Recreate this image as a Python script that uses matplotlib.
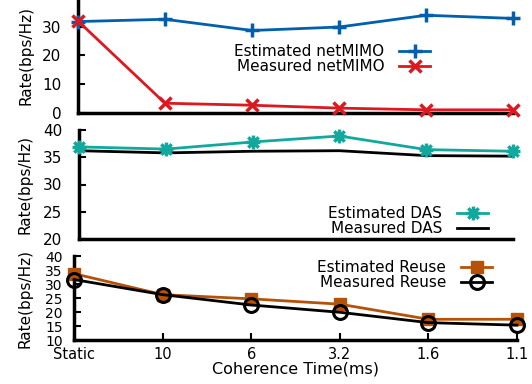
import numpy as np
import matplotlib
matplotlib.use("Agg")
import matplotlib.pyplot as plt
from matplotlib.path import Path

plt.rcParams['font.family'] = ['DejaVu Sans']

# coherence time categories
coherence = ['Static', '10', '6', '3.2', '1.6', '1.1']

# netMIMO
est_netmimo = [31.8, 32.6, 28.7, 29.9, 34.0, 32.9]
meas_netmimo = [32.0, 3.4, 2.7, 1.7, 1.1, 1.1]

# DAS
est_das = [36.9, 36.5, 37.8, 38.9, 36.4, 36.1]
meas_das = [36.2, 35.8, 36.1, 36.2, 35.3, 35.2]

# Reuse
est_reuse = [33.7, 26.2, 24.7, 22.8, 17.4, 17.4]
meas_reuse = [31.6, 26.2, 22.5, 19.9, 16.2, 15.3]

BLUE = '#0060ad'
RED = '#dd181f'
TEAL = '#12a89d'
BROWN = '#b5520a'

# gnuplot style star marker (+ and x together)
star = Path([(-1, 0), (1, 0), (0, -1), (0, 1),
             (-0.75, -0.75), (0.75, 0.75), (-0.75, 0.75), (0.75, -0.75)],
            [Path.MOVETO, Path.LINETO] * 4)

W, H = 532, 384
fig = plt.figure(figsize=(W / 100, H / 100), dpi=100)


def px_axes(left, right, top, bottom):
    return fig.add_axes([left / W, 1 - bottom / H, (right - left) / W, (bottom - top) / H])


def style(ax, ylim, yticks, labx):
    for s in ['top', 'right']:
        ax.spines[s].set_visible(False)
    for s in ['left', 'bottom']:
        ax.spines[s].set_linewidth(2.5)
    ax.set_xlim(0, len(coherence) - 1)
    ax.set_ylim(*ylim)
    ax.set_yticks(yticks)
    ax.tick_params(axis='y', direction='in', length=5, width=1.5, labelsize=11, pad=12)
    ax.set_ylabel('Rate(bps/Hz)', fontsize=11)
    ax.yaxis.set_label_coords(labx, 0.5)


x = np.arange(len(coherence))

# panel 1
ax1 = px_axes(78, 513, -2, 113)
ax1.plot(x, est_netmimo, color=BLUE, lw=2, marker='+', ms=10, mew=2.5,
         label='Estimated netMIMO', clip_on=False, zorder=3)
ax1.plot(x, meas_netmimo, color=RED, lw=2, marker='x', ms=9, mew=2.5,
         label='Measured netMIMO', clip_on=False, zorder=4)
style(ax1, (0, 40), [0, 10, 20, 30], -0.103)
ax1.set_xticks([])

# panel 2
ax2 = px_axes(79, 513, 130, 239)
ax2.plot(x, meas_das, color='black', lw=2, label='Measured DAS', clip_on=False, zorder=3)
ax2.plot(x, est_das, color=TEAL, lw=2, marker=star, ms=10, mew=2.5,
         label='Estimated DAS', clip_on=False, zorder=4)
style(ax2, (20, 40), [20, 25, 30, 35, 40], -0.106)
ax2.set_xticks([])

# panel 3
ax3 = px_axes(74, 517, 256, 340)
ax3.plot(x, est_reuse, color=BROWN, lw=2, marker='s', ms=9,
         label='Estimated Reuse', clip_on=False, zorder=3)
ax3.plot(x, meas_reuse, color='black', lw=2, marker='o', ms=10, mfc='none', mew=2.2,
         label='Measured Reuse', clip_on=False, zorder=4)
style(ax3, (10, 40), [10, 15, 20, 25, 30, 35, 40], -0.093)
ax3.tick_params(axis='y', pad=8, labelsize=10)
ax3.set_xticks(x)
ax3.set_xticklabels(coherence)
ax3.tick_params(axis='x', direction='in', length=5, width=1.5, labelsize=10.5, pad=5)
ax3.set_xlabel('Coherence Time(ms)', fontsize=11.5, labelpad=0)


def legend(ax, handles, xr, ytop):
    leg = ax.legend(handles=handles, loc='upper right', bbox_to_anchor=(xr / W, 1 - ytop / H),
                    bbox_transform=fig.transFigure, frameon=False, markerfirst=False,
                    fontsize=11, handlelength=2.0, handletextpad=1.0, labelspacing=0.0,
                    borderpad=0, borderaxespad=0, numpoints=1)
    return leg


h = ax1.get_lines()
legend(ax1, [h[0], h[1]], 430, 44)
h = ax2.get_lines()
legend(ax2, [h[1], h[0]], 488, 206)
h = ax3.get_lines()
legend(ax3, [h[0], h[1]], 492, 260)

fig.savefig('out.png', dpi=100)
